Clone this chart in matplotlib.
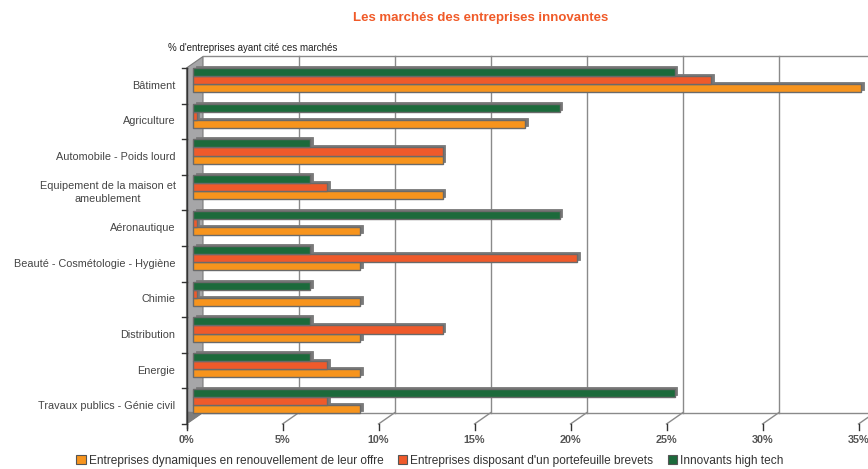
"""Markets cited by innovative firms, pseudo-3D horizontal bars."""

import matplotlib.pyplot as plt
import numpy as np
from matplotlib.patches import Patch, Polygon
from matplotlib.transforms import ScaledTranslation

plt.rcParams["font.family"] = ["Liberation Sans", "DejaVu Sans"]

categories = [
    "Bâtiment",
    "Agriculture",
    "Automobile - Poids lourd",
    "Equipement de la maison et\nameublement",
    "Aéronautique",
    "Beauté - Cosmétologie - Hygiène",
    "Chimie",
    "Distribution",
    "Energie",
    "Travaux publics - Génie civil",
]
dynamiques = [34.8, 17.3, 13.0, 13.0, 8.7, 8.7, 8.7, 8.7, 8.7, 8.7]
brevets = [27.0, 0.2, 13.0, 7.0, 0.2, 20.0, 0.2, 13.0, 7.0, 7.0]
high_tech = [25.1, 19.1, 6.1, 6.1, 19.1, 6.1, 6.1, 6.1, 6.1, 25.1]
series_labels = [
    "Entreprises dynamiques en renouvellement de leur offre",
    "Entreprises disposant d'un portefeuille brevets",
    "Innovants high tech",
]
x_ticks = [0, 5, 10, 15, 20, 25, 30, 35]

colors = ["#f7941d", "#ef5a2b", "#1c6a3b"]
W, H, DPI = 868, 469, 100
PX_PER_PCT = 19.2

fig = plt.figure(figsize=(W / DPI, H / DPI), dpi=DPI)


def fx(px):
    return px / W


def fy(py):
    return 1 - py / H


# bar plane (middle depth of the fake 3D box)
left, top, bottom = 193, 62.5, 418.5
ax = fig.add_axes([fx(left), fy(bottom), 1 - fx(left), (bottom - top) / H])
ax.set_xlim(0, (W - left) / PX_PER_PCT)
ax.set_ylim(len(categories) - 0.5, -0.5)
ax.axis("off")
ax.set_zorder(10)  # bars above the wall / floor drawn on the figure

BACK = (10, 6)        # pixel offset of back wall
FRONT = (-6.5, -5.5)  # pixel offset of front edge
to_fig = fig.transFigure.inverted()


def pt(x, y, off):
    d = ax.transData.transform((x, y)) + np.array(off)
    return to_fig.transform(d)


def line(p, q, **kw):
    fig.add_artist(plt.Line2D([p[0], q[0]], [p[1], q[1]], transform=fig.transFigure, **kw))


ymin, ymax = -0.5, len(categories) - 0.5
xmax = ax.get_xlim()[1]
grid_kw = dict(color="#8a8a8a", lw=1.0, zorder=1)

# left wall
wall = Polygon([pt(0, ymin, FRONT), pt(0, ymin, BACK), pt(0, ymax, BACK), pt(0, ymax, FRONT)],
               closed=True, transform=fig.transFigure, facecolor="#a6a6a8",
               edgecolor="#7a7a7a", lw=0.8, zorder=1)
fig.add_artist(wall)
corner = Polygon([pt(0, ymax, FRONT), pt(0, ymax, BACK), pt(0, ymax - 0.35, FRONT)],
                 closed=True, transform=fig.transFigure, facecolor="#7d7d7d",
                 edgecolor="none", zorder=1)
fig.add_artist(corner)

# floor and back wall grid
line(pt(0, ymax, BACK), pt(xmax + 1, ymax, BACK), **grid_kw)
line(pt(0, ymin, BACK), pt(xmax + 1, ymin, BACK), **grid_kw)
for v in x_ticks[1:]:
    line(pt(v, ymin, BACK), pt(v, ymax, BACK), **grid_kw)
    line(pt(v, ymax, FRONT), pt(v, ymax, BACK), **grid_kw)

# front axis and ticks
axis_kw = dict(color="#333333", lw=1.0, zorder=3)
line(pt(0, ymin, FRONT), pt(0, ymax, (FRONT[0], FRONT[1] - 4)), **axis_kw)
for k in range(len(categories) + 1):
    y = ymin + k
    line(pt(0, y, FRONT), pt(0, y, (FRONT[0] - 5, FRONT[1])), **axis_kw)
for v in x_ticks:
    p = pt(v, ymax, FRONT)
    line(p, pt(v, ymax, (FRONT[0], FRONT[1] - 6)), **axis_kw)
    lp = pt(v, ymax, (FRONT[0], FRONT[1] - 16))
    fig.text(lp[0], lp[1], f"{v}%", ha="center", va="center", fontsize=7.8,
             fontweight="bold", color="#555555")

for i, cat in enumerate(categories):
    lp = pt(0, i, (FRONT[0] - 11, FRONT[1]))
    fig.text(lp[0], lp[1], cat, ha="right", va="center", multialignment="center",
             fontsize=7.8, color="#444444", linespacing=1.45)

# bars, bottom series first so upper bars hide the shadows below
y = np.arange(len(categories))
h = 0.225
shadow = ax.transData + ScaledTranslation(2.5 / DPI, 2 / DPI, fig.dpi_scale_trans)
for vals, off, col in [(dynamiques, h, colors[0]), (brevets, 0, colors[1]),
                       (high_tech, -h, colors[2])]:
    ax.barh(y + off, vals, height=h, color="#7a7a7a", edgecolor="#7a7a7a", lw=0.6,
            transform=shadow, zorder=4, clip_on=False)
    ax.barh(y + off, vals, height=h, color=col, edgecolor="#6a6a6a", lw=1.0,
            zorder=5, clip_on=False)

fig.text(fx(481), fy(18), "Les marchés des entreprises innovantes", ha="center",
         va="center", fontsize=9.5, fontweight="bold", color="#f05a28")
fig.text(fx(168), fy(48), "% d'entreprises ayant cité ces marchés", ha="left",
         va="center", fontsize=7.0, color="#222222")

handles = [Patch(facecolor=c, edgecolor="#555555", lw=0.8) for c in colors]
fig.legend(handles, series_labels, loc="center", bbox_to_anchor=(fx(430), fy(461)),
           ncol=3, frameon=False, fontsize=8.6, handlelength=0.8, handleheight=0.8,
           handletextpad=0.25, columnspacing=1.2, labelcolor="#333333")

fig.savefig("out.png", dpi=DPI)
